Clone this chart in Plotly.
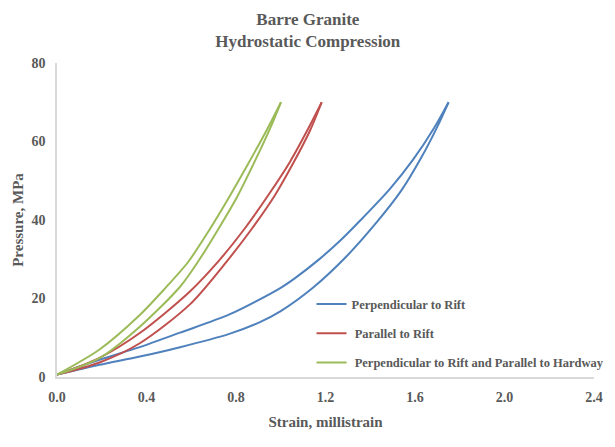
import plotly.graph_objects as go

# values; each loop = loading branch (right) + unloading branch (left)
blue_load_strain = [0.0, 0.19, 0.37, 0.55, 0.77, 0.9, 1.0, 1.145, 1.29, 1.43, 1.54, 1.63, 1.70, 1.75]
blue_load_press = [0.6, 3.1, 5.2, 7.6, 11.0, 13.8, 16.8, 22.8, 30.5, 39.5, 47.6, 56.1, 63.8, 70.0]
blue_unload_strain = [1.75, 1.686, 1.593, 1.489, 1.354, 1.265, 1.17, 1.064, 0.996, 0.773, 0.55, 0.37, 0.19, 0.0]
blue_unload_press = [70.0, 63.5, 55.5, 48.0, 39.8, 34.7, 29.9, 25.2, 22.6, 16.0, 11.3, 7.6, 4.4, 0.6]

red_load_strain = [0.0, 0.19, 0.37, 0.594, 0.758, 0.870, 0.974, 1.056, 1.131, 1.183]
red_load_press = [0.6, 3.7, 8.6, 18.5, 29.4, 37.7, 46.3, 54.5, 62.8, 70.0]
red_unload_strain = [1.183, 1.123, 1.041, 0.944, 0.840, 0.720, 0.594, 0.37, 0.19, 0.0]
red_unload_press = [70.0, 63.3, 54.8, 46.3, 37.9, 29.4, 21.8, 11.2, 4.9, 0.6]

green_load_strain = [0.0, 0.19, 0.37, 0.55, 0.635, 0.72, 0.806, 0.880, 0.952, 1.001]
green_load_press = [0.6, 4.8, 12.8, 23.0, 29.8, 37.6, 46.0, 54.5, 63.3, 70.0]
green_unload_strain = [1.001, 0.940, 0.855, 0.773, 0.68, 0.586, 0.48, 0.37, 0.19, 0.0]
green_unload_press = [70.0, 63.2, 54.4, 46.2, 37.4, 29.3, 22.4, 15.8, 7.0, 0.6]

names = ["Perpendicular to Rift", " Parallel to Rift",
         " Perpendicular to Rift and Parallel to Hardway"]
colors = ["#4F81BD", "#C0504D", "#9BBB59"]

x_ticks = [0.0, 0.4, 0.8, 1.2, 1.6, 2.0, 2.4]
y_ticks = [0, 20, 40, 60, 80]

grey = "#595959"
font = "Liberation Serif"

fig = go.Figure()
series = [
    (blue_load_strain, blue_load_press, blue_unload_strain, blue_unload_press),
    (red_load_strain, red_load_press, red_unload_strain, red_unload_press),
    (green_load_strain, green_load_press, green_unload_strain, green_unload_press),
]
for i, (lx, ly, ux, uy) in enumerate(series):
    line = dict(color=colors[i], width=2, shape="spline", smoothing=0.8)
    fig.add_trace(go.Scatter(x=lx, y=ly, mode="lines", name=names[i],
                             legendgroup=str(i), line=line))
    fig.add_trace(go.Scatter(x=ux, y=uy, mode="lines", name=names[i],
                             legendgroup=str(i), showlegend=False, line=line))

# page body has an 8px margin, so the figure is 8px smaller than the window
fig.update_layout(
    width=607, height=439,
    margin=dict(l=49, r=21, t=55, b=70, autoexpand=False),
    paper_bgcolor="white", plot_bgcolor="white",
    font=dict(family=font, color=grey, size=13),
    title=dict(text="<b>Barre Granite<br>Hydrostatic Compression</b>",
               x=0.494, xanchor="center", y=0.962, yanchor="top",
               font=dict(family=font, size=17, color=grey)),
    showlegend=True,
    legend=dict(x=0.474, y=0.279, xanchor="left", yanchor="top",
                bgcolor="rgba(0,0,0,0)", tracegroupgap=10,
                font=dict(family=font, size=12.5, color=grey, weight="bold")),
)

fig.update_xaxes(range=[0, 2.4], tickvals=x_ticks, tickformat=".1f", automargin=False,
                 showgrid=False, zeroline=False, showline=True,
                 linecolor="#D9D9D9", linewidth=1.5, ticks="", ticklabelstandoff=6,
                 tickfont=dict(family=font, size=14, color=grey, weight="bold"),
                 title=dict(text="<b>Strain, millistrain</b>", standoff=13,
                            font=dict(family=font, size=15, color=grey)))
fig.update_yaxes(range=[0, 80], tickvals=y_ticks, automargin=False,
                 showgrid=False, zeroline=False, showline=True,
                 linecolor="#D9D9D9", linewidth=1.5, ticks="", ticklabelstandoff=7,
                 tickfont=dict(family=font, size=14, color=grey, weight="bold"),
                 title=dict(text="<b>Pressure, MPa</b>", standoff=4,
                            font=dict(family=font, size=15, color=grey)))

fig.write_html("out.html")
